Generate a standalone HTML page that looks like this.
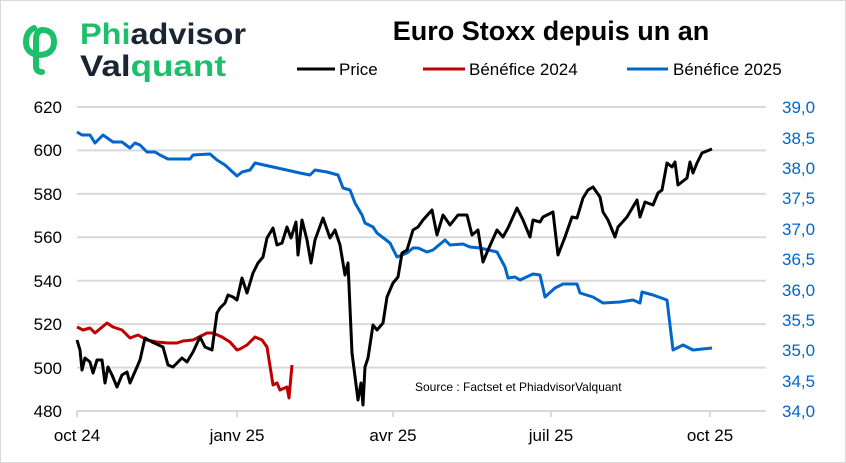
<!DOCTYPE html>
<html><head><meta charset="utf-8"><style>
html,body{margin:0;padding:0;background:#fff}
svg{display:block;font-family:"Liberation Sans",Arial,sans-serif}
</style></head><body>
<svg width="846" height="463" viewBox="0 0 846 463">
<rect x="0.5" y="0.5" width="845" height="462" fill="#fff" stroke="#d9d9d9"/>
<!-- logo -->
<g fill="none" stroke="#1dbf6a" stroke-width="6" stroke-linecap="round">
<path d="M34 28 Q26 32 26 42 Q26 54 40 55 Q54 54 54 42 Q54 30 42 30 Q36 31 36 40 L36 66 Q36 72 42 72"/>
</g>
<text x="80" y="44" font-size="30" font-weight="bold" fill="#1dbf6a" textLength="166" lengthAdjust="spacingAndGlyphs">Phi<tspan fill="#1a2533">advisor</tspan></text>
<text x="80" y="76" font-size="30" font-weight="bold" fill="#1a2533" textLength="146" lengthAdjust="spacingAndGlyphs">Val<tspan fill="#1dbf6a">quant</tspan></text>
<!-- title -->
<text x="551" y="40" font-size="27" font-weight="bold" text-anchor="middle" fill="#000">Euro Stoxx depuis un an</text>
<!-- legend -->
<g font-size="17" fill="#000">
<line x1="297" y1="69" x2="335" y2="69" stroke="#000" stroke-width="3"/><text x="339" y="75">Price</text>
<line x1="423" y1="69" x2="465" y2="69" stroke="#c00000" stroke-width="3"/><text x="469" y="75">Bénéfice 2024</text>
<line x1="627" y1="69" x2="668" y2="69" stroke="#0066cc" stroke-width="3"/><text x="673" y="75">Bénéfice 2025</text>
</g>
<!-- grid -->
<g stroke="#d9d9d9" stroke-width="2">
<line x1="77" y1="107" x2="766" y2="107"/><line x1="77" y1="150.4" x2="766" y2="150.4"/>
<line x1="77" y1="193.9" x2="766" y2="193.9"/><line x1="77" y1="237.3" x2="766" y2="237.3"/>
<line x1="77" y1="280.7" x2="766" y2="280.7"/><line x1="77" y1="324.1" x2="766" y2="324.1"/>
<line x1="77" y1="367.6" x2="766" y2="367.6"/><line x1="77" y1="411" x2="766" y2="411"/>
<line x1="77" y1="411" x2="77" y2="417"/><line x1="237" y1="411" x2="237" y2="417"/>
<line x1="393" y1="411" x2="393" y2="417"/><line x1="551" y1="411" x2="551" y2="417"/><line x1="710" y1="411" x2="710" y2="417"/>
</g>
<g font-size="17" fill="#000" text-anchor="end">
<text x="62" y="113">620</text><text x="62" y="156">600</text><text x="62" y="200">580</text><text x="62" y="243">560</text>
<text x="62" y="287">540</text><text x="62" y="330">520</text><text x="62" y="374">500</text><text x="62" y="417">480</text>
</g>
<g font-size="17" fill="#0066cc">
<text x="782" y="113">39,0</text><text x="782" y="144">38,5</text><text x="782" y="174">38,0</text><text x="782" y="204">37,5</text>
<text x="782" y="235">37,0</text><text x="782" y="265">36,5</text><text x="782" y="296">36,0</text><text x="782" y="326">35,5</text>
<text x="782" y="356">35,0</text><text x="782" y="387">34,5</text><text x="782" y="417">34,0</text>
</g>
<g font-size="17" fill="#000" text-anchor="middle">
<text x="77" y="441">oct 24</text><text x="237" y="441">janv 25</text><text x="393" y="441">avr 25</text><text x="551" y="441">juil 25</text><text x="710" y="441">oct 25</text>
</g>
<text x="415" y="391" font-size="12" fill="#000">Source : Factset et PhiadvisorValquant</text>
<!-- series -->
<g fill="none" stroke-width="3" stroke-linejoin="round">
<polyline stroke="#0066cc" points="77,132 82,135 90,135 95,143 103,135 113,142 122,142 130,148 135,143 140,145 147,152 155,152 160,155 168,159 190,159 193,155 210,154 217,160 225,165 237,176 242,172 250,170 255,163 273,167 300,173 310,175 315,170 327,172 338,175 343,188 350,190 355,203 362,215 365,223 373,227 377,233 390,243 397,257 407,253 413,248 418,248 427,252 433,250 445,240 450,245 463,244 470,247 480,248 497,252 505,267 508,278 515,277 520,280 533,274 540,275 545,297 555,288 563,284 577,284 580,293 593,297 603,303 620,302 633,300 640,303 642,292 653,295 667,300 673,350 683,345 693,350 712,348"/>
<polyline stroke="#c00000" points="77,327 83,330 90,328 95,333 107,323 113,327 122,330 130,338 138,335 147,340 157,342 168,343 177,343 183,341 193,340 207,333 213,333 222,337 230,342 237,350 240,349 247,345 255,337 262,340 267,347 273,385 277,383 280,390 287,387 289,398 292,365"/>
<polyline stroke="#000" points="77,340 80,350 82,370 85,358 90,362 93,373 97,360 102,360 105,383 108,367 112,375 117,387 122,375 127,372 130,383 137,367 140,360 145,338 152,342 163,347 168,365 173,367 182,358 187,362 193,352 200,337 205,347 212,350 217,313 220,308 225,303 228,295 233,297 237,300 242,278 247,293 253,273 258,263 263,257 267,238 273,228 277,245 282,243 287,227 291,238 296,222 298,255 302,220 307,240 311,263 315,240 323,218 330,238 335,230 340,245 345,275 348,263 352,353 358,400 361,383 363,405 365,367 368,358 373,325 377,330 383,323 387,297 393,283 398,277 402,253 407,250 413,230 418,227 423,220 432,210 437,235 443,215 450,225 458,215 467,215 472,235 478,230 483,262 488,250 497,230 503,237 508,228 517,208 523,220 530,237 533,220 540,222 543,217 553,212 558,255 565,237 572,217 577,218 583,198 588,190 593,187 600,197 603,212 608,220 615,237 618,227 627,217 637,200 640,217 645,202 653,205 658,193 662,190 667,163 672,167 675,162 678,185 687,178 690,162 693,173 697,163 702,153 712,149"/>
</g>
</svg>
</body></html>
